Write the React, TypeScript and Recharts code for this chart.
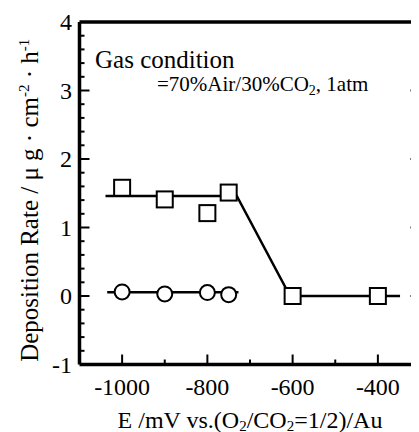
import React from 'react';
import { ComposedChart, Scatter, XAxis, YAxis } from 'recharts';

// Measured points (E in mV, deposition rate in µg·cm^-2·h^-1)
const squarePoints = [
  { x: -1000, y: 1.58 },
  { x: -900, y: 1.41 },
  { x: -800, y: 1.21 },
  { x: -750, y: 1.51 },
  { x: -600, y: 0.0 },
  { x: -400, y: 0.0 },
];
const circlePoints = [
  { x: -1000, y: 0.06 },
  { x: -900, y: 0.03 },
  { x: -800, y: 0.05 },
  { x: -750, y: 0.02 },
];
// Guide lines
const squareFit = [
  { x: -1039, y: 1.46 },
  { x: -731, y: 1.46 },
  { x: -606, y: 0 },
  { x: -348, y: 0 },
];
const circleFit = [
  { x: -1035, y: 0.055 },
  { x: -727, y: 0.055 },
];

const xDomain = [-1100, -300];
const yDomain = [-1, 4];
const xTicks = [-1100, -1000, -900, -800, -700, -600, -500, -400, -300];
const xTickLabels = [-1000, -800, -600, -400];
const yTicks = [-1, -0.8, -0.6, -0.4, -0.2, 0, 0.2, 0.4, 0.6, 0.8, 1, 1.2, 1.4, 1.6, 1.8, 2, 2.2, 2.4, 2.6, 2.8, 3, 3.2, 3.4, 3.6, 3.8, 4];
const yTickLabels = [-1, 0, 1, 2, 3, 4];

const FONT = 'Liberation Serif, DejaVu Serif, serif';
const INK = '#000';
const fontStyle = { fontFamily: FONT };

const isEnd = (v: number, d: number[]) => Math.abs(v - d[0]) < 1e-6 || Math.abs(v - d[1]) < 1e-6;
const isMajorY = (v: number) => yTickLabels.some((t) => Math.abs(t - v) < 1e-6);
const isMajorX = (v: number) => xTickLabels.some((t) => Math.abs(t - v) < 1e-6);

const BottomTick = (props: any) => {
  const { x, y, payload } = props;
  const v = payload.value;
  if (isEnd(v, xDomain)) return <g />;
  const major = isMajorX(v);
  return (
    <g>
      <line x1={x} x2={x} y1={y} y2={y - (major ? 10 : 5)} stroke={INK} strokeWidth={2} />
      {major && (
        <text x={x} y={y + 30.5} textAnchor="middle" style={fontStyle} fontSize={24} fill={INK}>
          {String(v)}
        </text>
      )}
    </g>
  );
};

const TopTick = (props: any) => {
  const { x, y, payload } = props;
  const v = payload.value;
  if (isEnd(v, xDomain)) return <g />;
  const major = isMajorX(v);
  return <line x1={x} x2={x} y1={y} y2={y + (major ? 10 : 5)} stroke={INK} strokeWidth={2} />;
};

const LeftTick = (props: any) => {
  const { x, y, payload } = props;
  const v = payload.value;
  const major = isMajorY(v);
  const end = isEnd(v, yDomain);
  return (
    <g>
      {!end && <line x1={x} x2={x + (major ? 10 : 5)} y1={y} y2={y} stroke={INK} strokeWidth={2} />}
      {major && (
        <text x={x - 7.5} y={y + 8.3} textAnchor="end" style={fontStyle} fontSize={24} fill={INK}>
          {String(v)}
        </text>
      )}
    </g>
  );
};

const RightTick = (props: any) => {
  const { x, y, payload } = props;
  const v = payload.value;
  if (isEnd(v, yDomain)) return <g />;
  const major = isMajorY(v);
  return <line x1={x} x2={x - (major ? 10 : 5)} y1={y} y2={y} stroke={INK} strokeWidth={2} />;
};

const XLabel = (props: any) => {
  const { x, y, width } = props.viewBox;
  const cx = x + width / 2;
  return (
    <text x={cx} y={y + 63.5} textAnchor="middle" style={fontStyle} fontSize={24} fill={INK}>
      E /mV vs.(O<tspan dy={2.5} fontSize={15}>2</tspan>
      <tspan dy={-2.5}>/CO</tspan>
      <tspan dy={2.5} fontSize={15}>2</tspan>
      <tspan dy={-2.5}>=1/2)/Au</tspan>
    </text>
  );
};

const YLabel = (props: any) => {
  const { x, y, height } = props.viewBox;
  const bx = x + 18;
  const cy = y + height / 2 + 7;
  return (
    <text
      x={bx}
      y={cy}
      transform={`rotate(-90, ${bx}, ${cy})`}
      textAnchor="middle"
      style={fontStyle}
      fontSize={25}
      fill={INK}
    >
      Deposition Rate / μ g · cm<tspan dy={-9} fontSize={15}>-2</tspan>
      <tspan dy={9}> · h</tspan>
      <tspan dy={-9} fontSize={15}>-1</tspan>
    </text>
  );
};

const Annotation = (props: any) => {
  const { x, y, height } = props.viewBox;
  const top = y + height;
  return (
    <g style={fontStyle} fill={INK}>
      <text x={x + 15.5} y={top + 46.3} fontSize={25} style={fontStyle}>
        Gas condition
      </text>
      <text x={x + 77.5} y={top + 68.7} fontSize={21} style={fontStyle}>
        =70%Air/30%CO<tspan dy={4} fontSize={14}>2</tspan>
        <tspan dy={-4}>, 1atm</tspan>
      </text>
    </g>
  );
};

const SquareShape = (props: any) => {
  const { cx, cy } = props;
  return <rect x={cx - 8} y={cy - 8} width={16} height={16} fill="#fff" stroke={INK} strokeWidth={2} />;
};
const CircleShape = (props: any) => {
  const { cx, cy } = props;
  return <circle cx={cx} cy={cy} r={7.5} fill="#fff" stroke={INK} strokeWidth={2} />;
};
const NoShape = () => <g />;

export default function App() {
  const axisLine = { stroke: INK, strokeWidth: 3.5 };
  return (
    <div style={{ width: 411, height: 424, overflow: 'hidden', fontFamily: FONT }}>
      <ComposedChart width={414} height={424} margin={{ top: 13, right: 0.5, bottom: 7.5, left: 11.5 }} style={fontStyle}>
        <XAxis
          dataKey="x"
          type="number"
          domain={xDomain}
          ticks={xTicks}
          interval={0}
          allowDataOverflow
          height={60}
          axisLine={axisLine}
          tickLine={false}
          tickSize={0}
          tickMargin={0}
          tick={BottomTick}
          label={{ content: XLabel }}
        />
        <XAxis
          xAxisId="top"
          orientation="top"
          type="number"
          domain={xDomain}
          ticks={xTicks}
          interval={0}
          allowDataOverflow
          height={1}
          axisLine={axisLine}
          tickLine={false}
          tickSize={0}
          tickMargin={0}
          tick={TopTick}
          label={{ content: Annotation }}
        />
        <YAxis
          dataKey="y"
          type="number"
          domain={yDomain}
          ticks={yTicks}
          interval={0}
          allowDataOverflow
          width={60}
          axisLine={axisLine}
          tickLine={false}
          tickSize={0}
          tickMargin={0}
          tick={LeftTick}
          label={{ content: YLabel }}
        />
        <YAxis
          yAxisId="r"
          orientation="right"
          type="number"
          domain={yDomain}
          ticks={yTicks}
          interval={0}
          allowDataOverflow
          width={1}
          axisLine={axisLine}
          tickLine={false}
          tickSize={0}
          tickMargin={0}
          tick={RightTick}
        />
        <Scatter data={squareFit} line={{ stroke: INK, strokeWidth: 2.5 }} shape={NoShape} isAnimationActive={false} />
        <Scatter data={circleFit} line={{ stroke: INK, strokeWidth: 2.5 }} shape={NoShape} isAnimationActive={false} />
        <Scatter data={squarePoints} shape={SquareShape} isAnimationActive={false} />
        <Scatter data={circlePoints} shape={CircleShape} isAnimationActive={false} />
      </ComposedChart>
    </div>
  );
}
